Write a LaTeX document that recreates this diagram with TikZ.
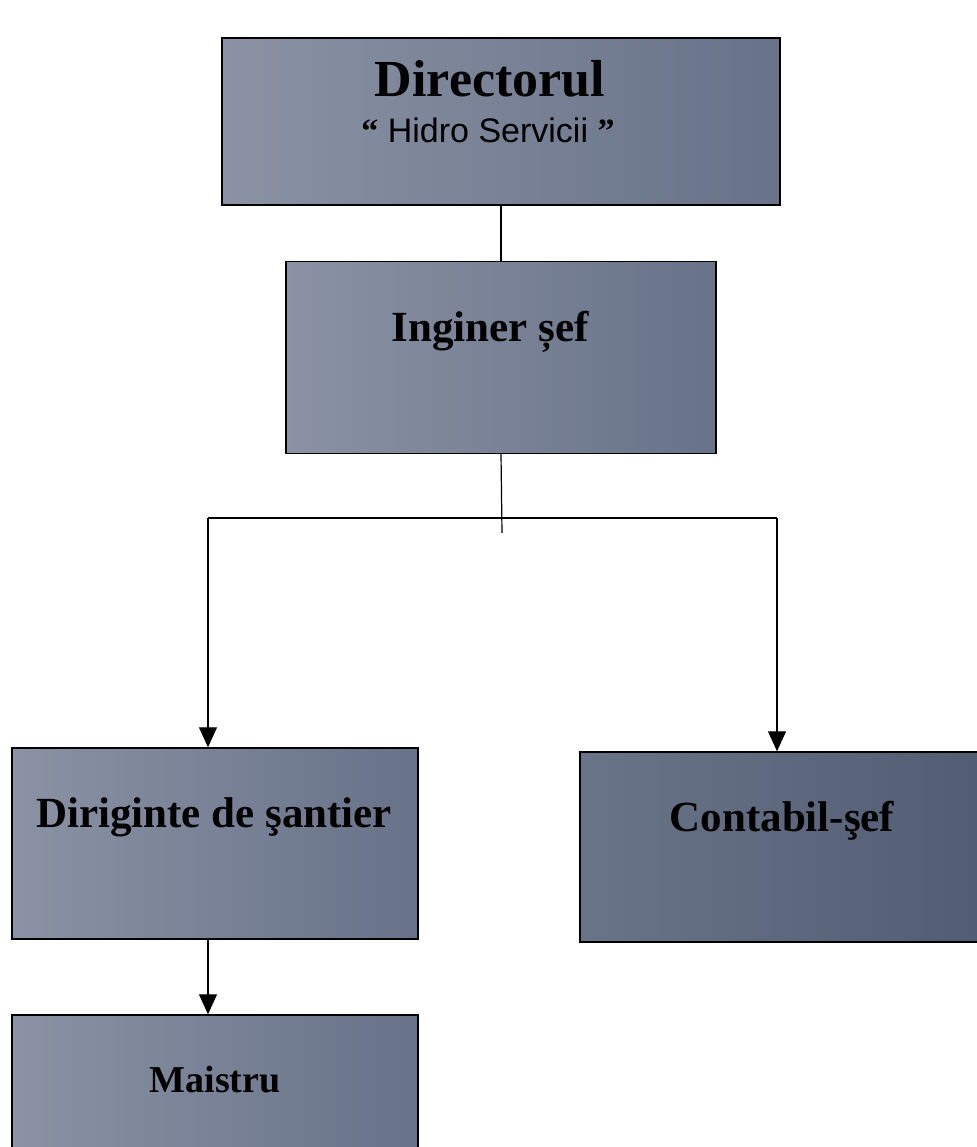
\documentclass[tikz,border=0pt]{standalone}
\usepackage{fontspec}
\setmainfont{Liberation Serif}
\newfontfamily\arialfont{Liberation Sans}
\usepackage{xcolor}
\usetikzlibrary{positioning,arrows.meta}

\definecolor{boxlight}{RGB}{138,146,164}
\definecolor{boxdark}{RGB}{104,114,136}
\definecolor{contlight}{RGB}{106,116,136}
\definecolor{contdark}{RGB}{82,93,116}

\newcommand{\fsz}[1]{\fontsize{#1}{#1}\selectfont}

\begin{document}
\begin{tikzpicture}[x=1pt, y=1pt,
    box/.style={draw, line width=1.4pt, inner sep=0pt, left color=boxlight, right color=boxdark},
    title/.style={anchor=base, font=\bfseries\fsz{43}},
    arr/.style={-{Triangle[width=18pt,length=20pt]}, line width=1.2pt}]
        \useasboundingbox (0,0) rectangle (976,1147);

        % boxes
        \node[box, minimum width=558pt, minimum height=167pt] (dir) at (501,1025.5) {};
        \node[box, minimum width=430pt, minimum height=192pt, below=55pt of dir] (ing) {};
        \node[box, minimum width=406pt, minimum height=191pt] (dirig) at (215,303.5) {};
        \node[box, minimum width=400pt, minimum height=190pt, left color=contlight, right color=contdark] (cont) at (780,300) {};
        \node[box, minimum width=406pt, minimum height=175pt] (mais) at (215,44.5) {};

        % texts
        \node[title, font=\bfseries\fsz{52}] (dirT) at (490,1050) {Directorul};
        \node[anchor=base, font=\arialfont\fsz{34}] (dirS) at (488,1004) {{\rmfamily\bfseries “} Hidro Servicii {\rmfamily\bfseries ”}};
        \node[title] (ingT) at (490,805) {Inginer șef};
        \node[title] (dirigT) at (214,319) {Diriginte de şantier};
        \node[title] (contT) at (782,315) {Contabil-şef};
        \node[title, font=\bfseries\fsz{38}] (maisT) at (215,54) {Maistru};

        % connectors
        \coordinate (trunk) at (502,614);
        \coordinate (jl) at (208,629);
        \coordinate (jr) at (777,629);
        \draw[line width=1.2pt] (dir.south) -- (ing.north);
        \draw[line width=1.2pt] (ing.south) -- (trunk);
        \draw[line width=1.2pt] (jl) -- (jr);
        \draw[arr] (jl) -- (jl |- dirig.north);
        \draw[arr] (jr) -- (jr |- cont.north);
        \draw[arr] (jl |- dirig.south) -- (jl |- mais.north);
    \end{tikzpicture}
\end{document}
